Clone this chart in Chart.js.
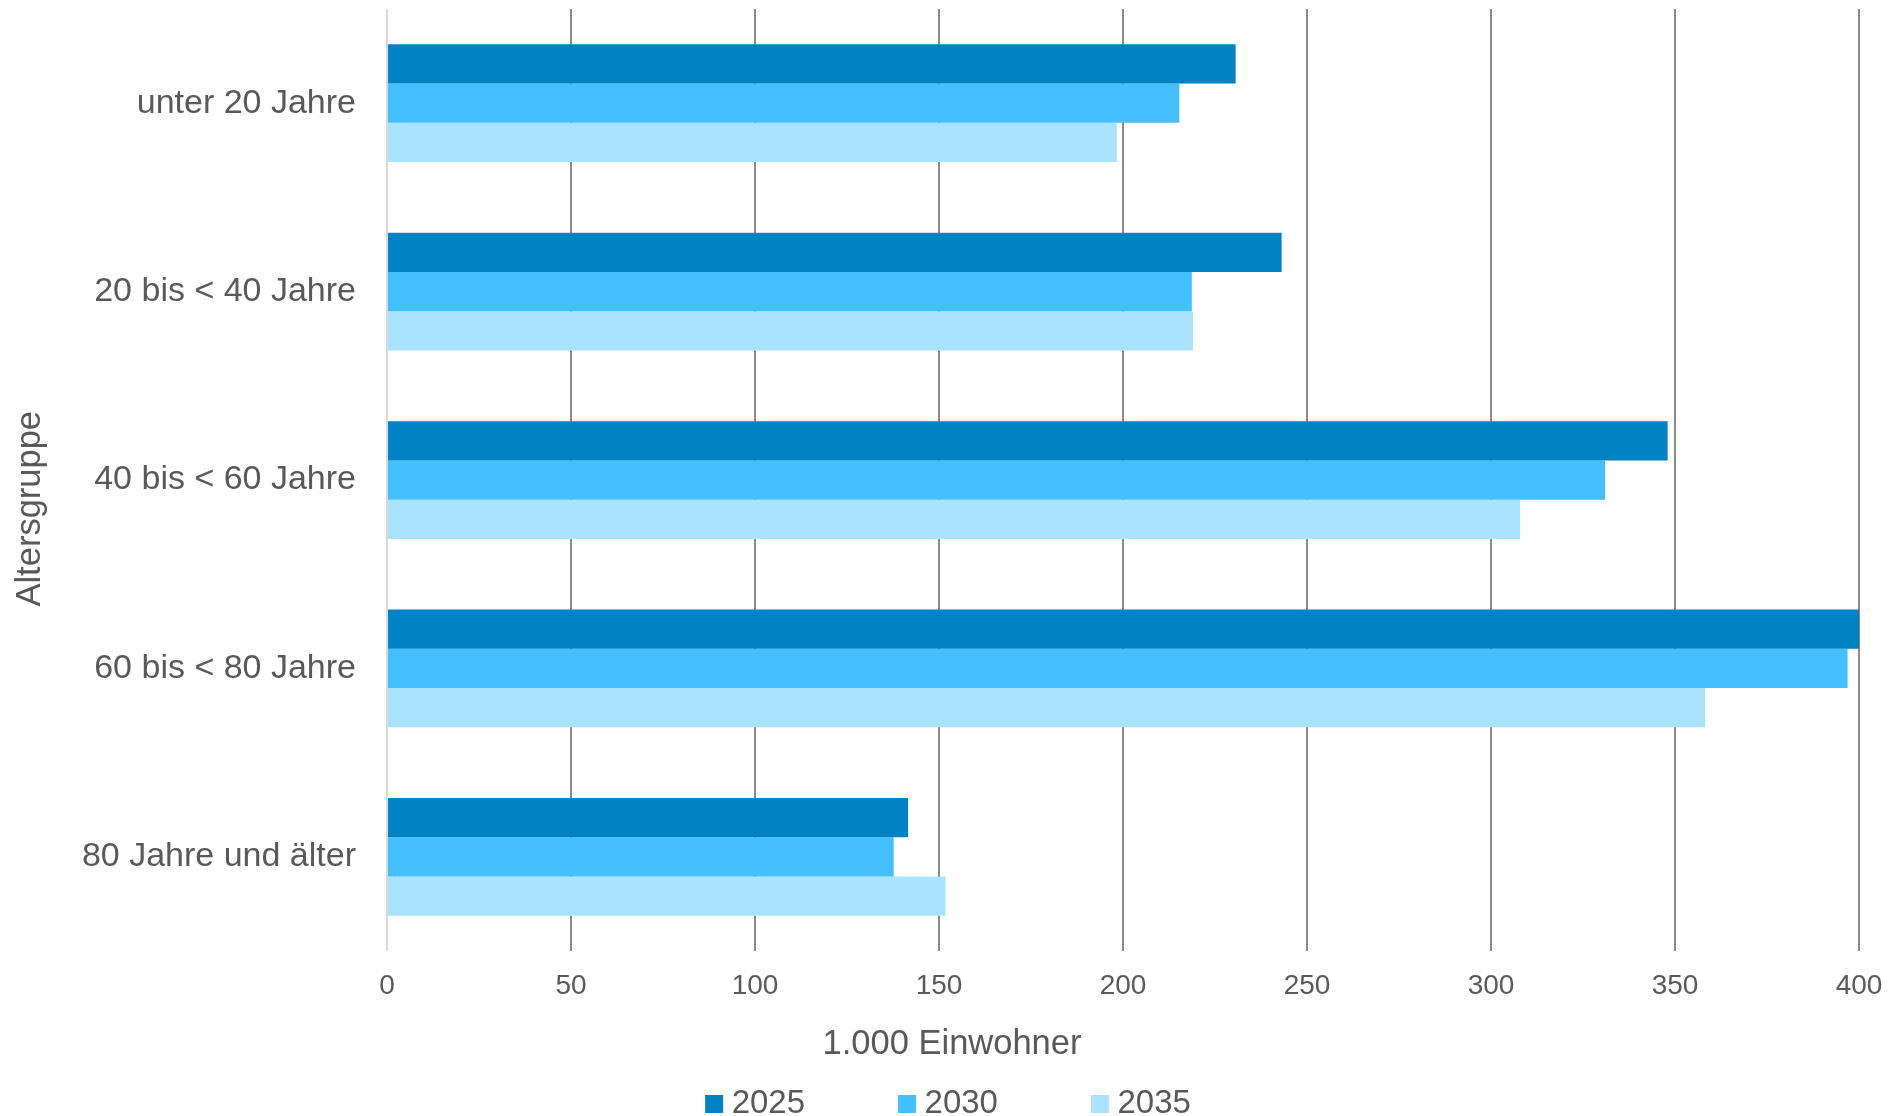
<!DOCTYPE html>
<html lang="de">
<head>
<meta charset="utf-8">
<title>Bevölkerung nach Altersgruppen</title>
<script src="https://cdn.jsdelivr.net/npm/chart.js@4/dist/chart.umd.min.js"></script>
<style>
  html, body { margin: 0; padding: 0; background: #fff; }
  #wrap { width: 1903px; height: 1116px; position: relative; }
</style>
</head>
<body>
<div id="wrap"><canvas id="chartAlter"></canvas></div>
<script>
// Daten (1.000 Einwohner)
const categories = ['unter 20 Jahre', '20 bis < 40 Jahre', '40 bis < 60 Jahre', '60 bis < 80 Jahre', '80 Jahre und älter'];
const seriesNames = ['2025', '2030', '2035'];
const values2025 = [230.6, 243.1, 348.0, 400.5, 141.6];
const values2030 = [215.3, 218.7, 331.0, 396.9, 137.7];
const values2035 = [198.3, 219.0, 307.9, 358.2, 151.8];
const xTicks = [0, 50, 100, 150, 200, 250, 300, 350, 400];

const colors = ['#0082c4', '#44c0ff', '#aae3ff'];
const textColor = '#595959';
const fontFamily = '"Liberation Sans", Arial, sans-serif';

// legend takes little room in the layout; afterwards it is moved up so that its
// labels (pushed down by the big padding) land under the axis title
const legendHeight = {
  id: 'legendHeight',
  beforeInit(chart) {
    const fit = chart.legend.fit;
    chart.legend.fit = function () {
      fit.call(this);
      this.height = 10;
    };
  },
  afterLayout(chart) {
    chart.legend.top = 986.5;
    chart.legend.bottom = chart.height;
    chart.legend.height = chart.legend.bottom - chart.legend.top;
  }
};

document.addEventListener('DOMContentLoaded', function () {
  const ctx = document.getElementById('chartAlter').getContext('2d');

  new Chart(ctx, {
    type: 'bar',
    data: {
      labels: categories,
      datasets: [
        { label: seriesNames[0], data: values2025, backgroundColor: colors[0] },
        { label: seriesNames[1], data: values2030, backgroundColor: colors[1] },
        { label: seriesNames[2], data: values2035, backgroundColor: colors[2] }
      ]
    },
    options: {
      indexAxis: 'y',
      responsive: true,
      maintainAspectRatio: false,
      animation: false,
      datasets: {
        bar: { categoryPercentage: 0.625, barPercentage: 1.0, borderWidth: 0 }
      },
      layout: { padding: { left: 1, right: 0, top: 9, bottom: 0 } },
      plugins: {
        tooltip: { enabled: false },
        legend: {
          position: 'bottom',
          labels: {
            color: textColor,
            font: { family: fontFamily, size: 33 },
            // tiny box + thick stroke of the same colour: 18px square, text closer to it
            boxWidth: 2,
            boxHeight: 2,
            padding: 101,
            generateLabels: function (chart) {
              const items = Chart.defaults.plugins.legend.labels.generateLabels(chart);
              items.forEach(it => {
                it.lineWidth = 16;
                it.strokeStyle = it.fillStyle;
              });
              return items;
            }
          }
        },
        title: {
          display: true,
          position: 'bottom',
          text: '1.000 Einwohner',
          color: textColor,
          font: { family: fontFamily, size: 34.5, weight: 'normal' },
          padding: { top: 13.1, bottom: 50.5 }
        }
      },
      scales: {
        x: {
          min: 0,
          max: 400,
          afterBuildTicks: function (scale) {
            scale.ticks = xTicks.map(v => ({ value: v }));
          },
          afterFit: function (scale) { scale.height = 50; },
          grid: {
            color: c => (c.tick && c.tick.value === 0 ? '#d9d9d9' : '#8a8a8a'),
            lineWidth: 2,
            drawTicks: false
          },
          border: { display: false },
          ticks: {
            color: textColor,
            font: { family: fontFamily, size: 28 },
            padding: 18
          }
        },
        y: {
          afterFit: function (scale) {
            scale.width = 386;
            scale.paddingTop = 0;
            scale.paddingBottom = 0;
          },
          grid: { display: false, drawTicks: false },
          border: { display: false },
          ticks: {
            color: textColor,
            font: { family: fontFamily, size: 34 },
            padding: 31
          },
          title: {
            display: true,
            text: 'Altersgruppe      ',
            color: textColor,
            font: { family: fontFamily, size: 34.5 },
            padding: { top: 9, bottom: 0 }
          }
        },
        // empty right-hand axis: keeps room right of the plot without shifting title and legend
        yRight: {
          axis: 'y',
          position: 'right',
          afterFit: function (scale) {
            scale.width = 44;
            scale.paddingTop = 0;
            scale.paddingBottom = 0;
          },
          grid: { display: false, drawTicks: false },
          border: { display: false },
          ticks: { display: false }
        }
      }
    },
    plugins: [legendHeight]
  });
});
</script>
</body>
</html>
